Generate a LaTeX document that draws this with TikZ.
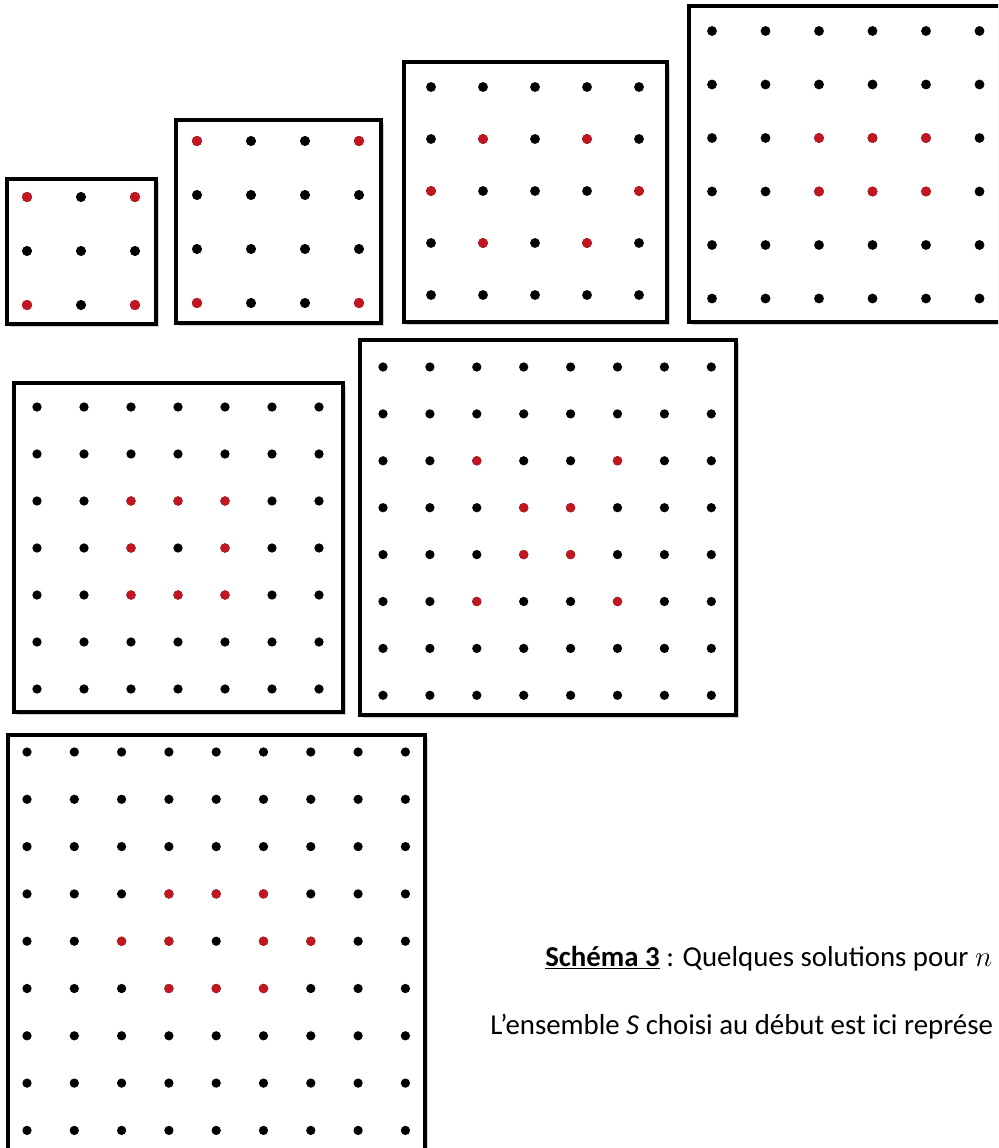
\documentclass[tikz,border=0pt]{standalone}
\usepackage{fontspec}
\setmainfont{Carlito}
\usepackage{tikz}
\usetikzlibrary{shadows}
\definecolor{dotred}{RGB}{196,22,32}

% #1,#2 first dot, #3 step, #4 size, #5 radius
\newcommand{\dotgrid}[5]{%
  \foreach \i in {1,...,#4}
    \foreach \j in {1,...,#4}
      \fill[blackdot] ({#1+(\i-1)*#3},{#2+(\j-1)*#3}) circle[radius=#5];
}
% #4 list of column/row pairs
\newcommand{\reddots}[5]{%
  \foreach \i/\j in {#4}
    \fill[reddot] ({#1+(\i-1)*#3},{#2+(\j-1)*#3}) circle[radius=#5];
}

\begin{document}
\begin{tikzpicture}[
    x=0.025cm, y=-0.025cm,
    every node/.style={font=\fontsize{20.5}{24}\selectfont, inner sep=0pt},
    frame/.style={
      draw=black, line width=2.6pt, fill=white,
      drop shadow={shadow xshift=1.8pt, shadow yshift=-1.8pt,
                   fill=black!40, opacity=0.45}
    },
    blackdot/.style={fill=black},
    reddot/.style={fill=dotred}
  ]

    \useasboundingbox (0,0) rectangle (998,1148);
    \clip (0,0) rectangle (998,1148);

    % n = 3
    \draw[frame] (7,179) rectangle (156,324);
    \dotgrid{27}{197}{54}{3}{3.6pt}
    \reddots{27}{197}{54}{1/1,3/1,1/3,3/3}{3.6pt}

    % n = 4
    \draw[frame] (176,120) rectangle (381,323);
    \dotgrid{197}{141}{54}{4}{3.6pt}
    \reddots{197}{141}{54}{1/1,4/1,1/4,4/4}{3.6pt}

    % n = 5
    \draw[frame] (404,62) rectangle (667,322);
    \dotgrid{431}{87}{52}{5}{3.5pt}
    \reddots{431}{87}{52}{2/2,4/2,1/3,5/3,2/4,4/4}{3.5pt}

    % n = 6
    \draw[frame] (689,6) rectangle (1012,322);
    \dotgrid{712}{31}{53.5}{6}{3.5pt}
    \reddots{712}{31}{53.5}{3/3,4/3,5/3,3/4,4/4,5/4}{3.5pt}

    % n = 7
    \draw[frame] (14,383) rectangle (343,712);
    \dotgrid{37}{407}{47}{7}{3.3pt}
    \reddots{37}{407}{47}{3/3,4/3,5/3,3/4,5/4,3/5,4/5,5/5}{3.3pt}

    % n = 8
    \draw[frame] (360,340) rectangle (736,715);
    \dotgrid{383}{367}{46.9}{8}{3.3pt}
    \reddots{383}{367}{46.9}{3/3,6/3,4/4,5/4,4/5,5/5,3/6,6/6}{3.3pt}

    % n = 9
    \draw[frame] (8,735) rectangle (425,1151);
    \dotgrid{27}{752}{47.3}{9}{3.3pt}
    \reddots{27}{752}{47.3}{4/4,5/4,6/4,3/5,4/5,6/5,7/5,4/6,5/6,6/6}{3.3pt}

    \node[anchor=base west] (caption) at (545,966)
      {\underline{\textbf{Schéma 3}} : Quelques solutions pour $n$};
    \node[anchor=base west] (legend) at (490,1034)
      {L’ensemble \textit{S} choisi au début est ici représe};

  \end{tikzpicture}
\end{document}
